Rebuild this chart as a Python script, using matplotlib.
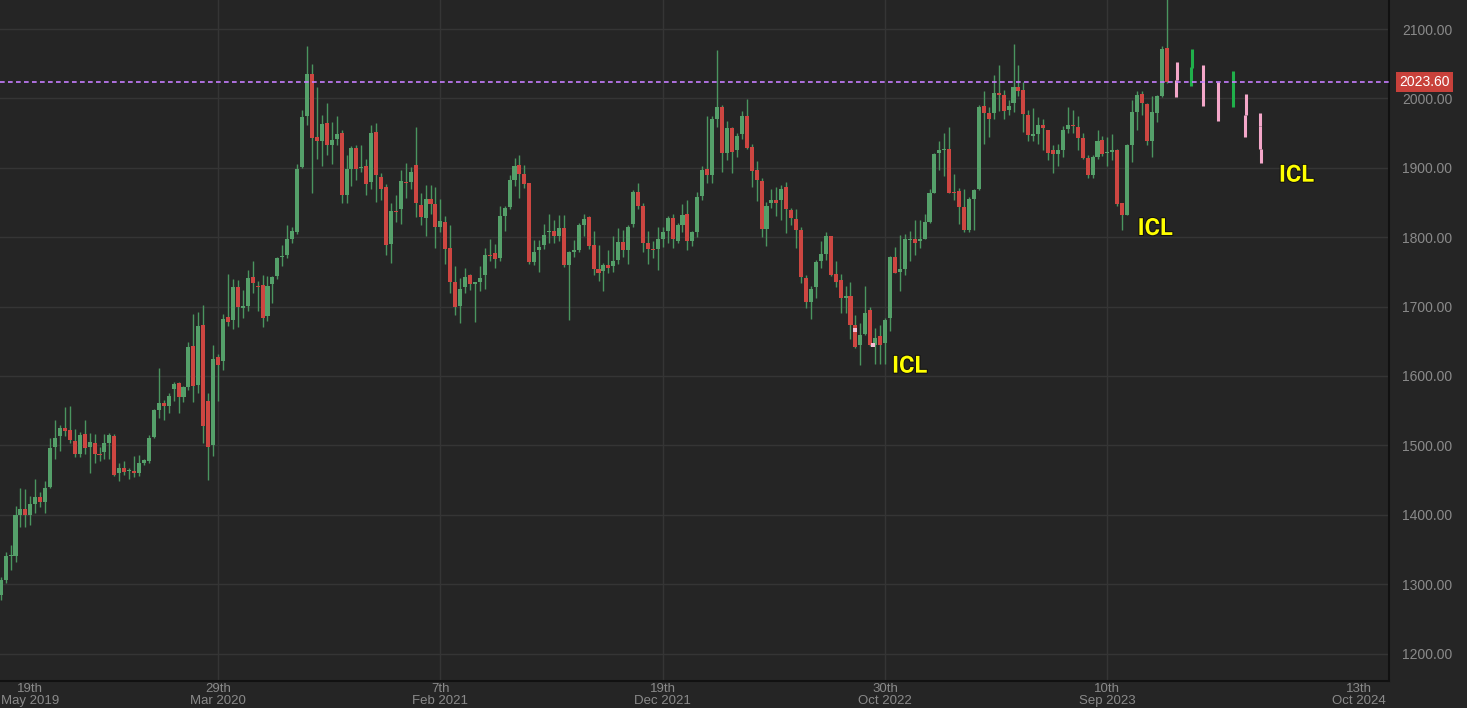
import matplotlib
matplotlib.use('Agg')
import matplotlib.pyplot as plt
import matplotlib.patheffects as pe
import matplotlib.transforms as mtransforms
import numpy as np

plt.rcParams['font.family'] = ['Liberation Sans', 'DejaVu Sans']

# weekly candles, first week = 26 May 2019
opens = [1284, 1306, 1340, 1341, 1400, 1408, 1400, 1415, 1425, 1419,
         1440, 1498, 1513, 1525, 1522, 1507, 1488, 1516, 1498, 1503,
         1488, 1491, 1504, 1513, 1460, 1467, 1463, 1463, 1460, 1475,
         1477, 1512, 1551, 1561, 1557, 1581, 1590, 1570, 1584, 1643,
         1587, 1674, 1564, 1500, 1627, 1621, 1685, 1681, 1728, 1698,
         1701, 1742, 1730, 1731, 1687, 1732, 1744, 1772, 1774, 1798,
         1807, 1901, 1975, 2035, 1944, 1939, 1965, 1933, 1941, 1950,
         1861, 1898, 1929, 1900, 1903, 1880, 1952, 1887, 1872, 1790,
         1838, 1840, 1880, 1880, 1904, 1847, 1827, 1855, 1848, 1814,
         1822, 1784, 1735, 1701, 1728, 1746, 1732, 1735, 1746, 1775,
         1777, 1770, 1831, 1844, 1882, 1904, 1891, 1878, 1764, 1781,
         1789, 1808, 1809, 1802, 1813, 1760, 1779, 1781, 1818, 1829,
         1789, 1754, 1751, 1760, 1758, 1767, 1793, 1782, 1819, 1865,
         1845, 1792, 1783, 1783, 1798, 1809, 1828, 1795, 1818, 1834,
         1794, 1808, 1859, 1898, 1890, 1971, 1987, 1922, 1957, 1926,
         1949, 1975, 1930, 1897, 1881, 1812, 1849, 1853, 1853, 1872,
         1839, 1826, 1811, 1741, 1707, 1728, 1766, 1776, 1802, 1747,
         1738, 1713, 1715, 1674, 1645, 1661, 1695, 1645, 1658, 1647,
         1683, 1771, 1750, 1754, 1796, 1797, 1795, 1798, 1822, 1864,
         1922, 1925, 1927, 1864, 1867, 1843, 1811, 1855, 1869, 1989,
         1979, 1979, 2008, 2005, 1984, 1993, 2016, 2012, 1976, 1946,
         1949, 1962, 1954, 1926, 1920, 1926, 1956, 1962, 1959, 1943,
         1914, 1890, 1916, 1940, 1921, 1923, 1926, 1849, 1832, 1933,
         1981, 2007, 1992, 1939, 1979, 2003, 2073]
highs = [1310, 1347, 1357, 1412, 1438, 1437, 1427, 1452, 1433, 1448,
         1510, 1536, 1529, 1555, 1557, 1524, 1519, 1536, 1518, 1516,
         1497, 1516, 1518, 1516, 1474, 1478, 1467, 1484, 1486, 1481,
         1515, 1553, 1611, 1565, 1575, 1592, 1592, 1586, 1649, 1690,
         1692, 1703, 1575, 1644, 1632, 1690, 1747, 1740, 1738, 1724,
         1753, 1766, 1737, 1745, 1744, 1744, 1772, 1789, 1818, 1815,
         1906, 1984, 2075, 2050, 2016, 1976, 1994, 1966, 1975, 1955,
         1918, 1931, 1933, 1933, 1912, 1962, 1965, 1892, 1877, 1849,
         1861, 1897, 1907, 1901, 1959, 1864, 1875, 1875, 1872, 1855,
         1830, 1817, 1759, 1741, 1756, 1747, 1736, 1758, 1784, 1797,
         1790, 1845, 1845, 1890, 1914, 1918, 1904, 1878, 1796, 1796,
         1819, 1834, 1825, 1832, 1832, 1780, 1796, 1820, 1834, 1831,
         1809, 1789, 1763, 1781, 1802, 1813, 1810, 1818, 1868, 1878,
         1849, 1809, 1795, 1815, 1814, 1831, 1833, 1820, 1848, 1854,
         1809, 1865, 1903, 1974, 1975, 2070, 1991, 1967, 1959, 1950,
         1982, 1999, 1934, 1910, 1885, 1851, 1870, 1873, 1875, 1879,
         1842, 1840, 1815, 1745, 1730, 1767, 1795, 1807, 1802, 1765,
         1747, 1730, 1735, 1688, 1677, 1730, 1699, 1669, 1674, 1683,
         1773, 1786, 1803, 1805, 1809, 1825, 1825, 1834, 1870, 1922,
         1938, 1950, 1959, 1891, 1871, 1870, 1858, 1870, 1990, 2011,
         1987, 2034, 2048, 2012, 1998, 2079, 2048, 2024, 1984, 1986,
         1973, 1971, 1955, 1933, 1935, 1960, 1988, 1983, 1974, 1950,
         1918, 1918, 1954, 1946, 1945, 1948, 1927, 1850, 1934, 1998,
         2011, 2010, 1993, 2003, 2005, 2076, 2146]
lows = [1277, 1301, 1320, 1332, 1383, 1382, 1385, 1402, 1411, 1402,
        1438, 1481, 1492, 1513, 1503, 1483, 1483, 1488, 1460, 1474,
        1478, 1481, 1481, 1456, 1448, 1458, 1451, 1455, 1456, 1472,
        1475, 1511, 1539, 1536, 1547, 1564, 1547, 1563, 1580, 1563,
        1576, 1504, 1450, 1484, 1564, 1609, 1672, 1668, 1670, 1683,
        1693, 1719, 1694, 1671, 1679, 1705, 1740, 1758, 1770, 1791,
        1805, 1899, 1962, 1863, 1912, 1903, 1918, 1906, 1933, 1850,
        1850, 1874, 1883, 1894, 1861, 1870, 1851, 1854, 1775, 1763,
        1822, 1819, 1856, 1870, 1829, 1818, 1802, 1833, 1785, 1807,
        1761, 1719, 1688, 1677, 1720, 1724, 1678, 1723, 1725, 1765,
        1756, 1766, 1809, 1840, 1874, 1857, 1871, 1762, 1760, 1750,
        1783, 1792, 1791, 1794, 1757, 1681, 1772, 1778, 1802, 1783,
        1745, 1737, 1723, 1748, 1750, 1761, 1772, 1761, 1814, 1840,
        1779, 1762, 1770, 1753, 1786, 1791, 1784, 1791, 1807, 1781,
        1788, 1801, 1854, 1878, 1878, 1959, 1894, 1911, 1892, 1916,
        1941, 1927, 1872, 1852, 1801, 1788, 1842, 1830, 1825, 1806,
        1818, 1785, 1734, 1698, 1682, 1713, 1756, 1767, 1744, 1728,
        1691, 1691, 1654, 1641, 1616, 1659, 1643, 1617, 1618, 1618,
        1665, 1748, 1723, 1745, 1766, 1775, 1785, 1797, 1820, 1863,
        1897, 1888, 1863, 1854, 1819, 1808, 1807, 1810, 1868, 1935,
        1945, 1970, 1982, 1970, 1976, 1981, 2003, 1952, 1938, 1938,
        1935, 1926, 1911, 1893, 1902, 1915, 1950, 1950, 1926, 1912,
        1886, 1886, 1912, 1917, 1902, 1911, 1845, 1811, 1832, 1909,
        1955, 1976, 1933, 1916, 1966, 2002, 2022]
closes = [1306, 1340, 1342, 1399, 1408, 1400, 1416, 1425, 1419, 1438,
          1496, 1510, 1525, 1521, 1508, 1488, 1515, 1496, 1505, 1488,
          1486, 1503, 1515, 1458, 1467, 1462, 1463.5, 1460, 1474, 1479,
          1510, 1551, 1561, 1557, 1571, 1588, 1570, 1584, 1642, 1586,
          1672, 1528, 1498, 1625, 1616, 1682, 1678, 1728, 1700, 1701,
          1741, 1734, 1728, 1683, 1730, 1742, 1770, 1773, 1798, 1809,
          1898, 1973, 2035, 1943, 1939, 1963, 1933, 1940, 1948, 1861,
          1898, 1929, 1898, 1900.5, 1877, 1950, 1890, 1870, 1789, 1838,
          1836, 1881, 1878, 1894, 1849, 1829, 1855, 1848, 1814, 1824,
          1783, 1735, 1699, 1725, 1742, 1733, 1735, 1741, 1774, 1773,
          1768, 1831, 1842, 1882, 1903, 1891, 1876, 1764, 1779, 1786,
          1803, 1809.5, 1802, 1813, 1760, 1779, 1782, 1818, 1826, 1787,
          1754, 1749, 1760, 1756, 1766, 1793, 1782, 1815, 1865, 1845,
          1792, 1783, 1781, 1797, 1808, 1828, 1797, 1817, 1832, 1794,
          1807, 1858, 1897, 1890, 1970, 1988, 1921, 1957, 1923, 1946,
          1975, 1928, 1896, 1882, 1812, 1845, 1853, 1850, 1870, 1840,
          1827, 1810, 1742, 1707, 1726, 1764, 1776, 1802, 1746, 1736,
          1712, 1713.5, 1674, 1642, 1659, 1691, 1645, 1655, 1645, 1681,
          1771, 1749, 1754, 1797, 1797.5, 1792, 1797, 1822, 1864, 1920,
          1925, 1927, 1864, 1863, 1843, 1810, 1855, 1868, 1988, 1979,
          1970, 2008, 2005, 1982, 1989, 2016, 2011, 1978, 1947, 1949,
          1962, 1958, 1922, 1920, 1926, 1955, 1962, 1960, 1943, 1914,
          1890, 1916, 1939, 1920, 1923, 1926, 1848, 1832, 1933, 1981,
          2005, 1993, 1939, 1981, 2003, 2071, 2023.6]

# projected path bars (week position, top, bottom, colour kind)
proj_week = [238.1, 237.9, 241.1, 240.9, 243.3, 246.4, 249.5, 252.0, 251.8, 254.8, 254.95, 255.1]
proj_top = [2052, 2026.5, 2070.7, 2045.7, 2048.1, 2024.1, 2040.0, 2005.9, 1976.1, 1979.4, 1960.7, 1927.1]
proj_bot = [2026.5, 2001.6, 2043.4, 2017.9, 1989.0, 1967.9, 1987.2, 1976.1, 1944.9, 1960.7, 1927.1, 1907.4]
proj_kind = ['p', 'p', 'g', 'g', 'p', 'p', 'g', 'p', 'p', 'p', 'p', 'p']

# small pink markers on the Oct 2022 lows
mark_week = [173.0, 176.6]
mark_price = [1667, 1644]

last_price = 2023.60

tick_pos = [5.87, 44, 89, 134, 179, 224, 275.0]
tick_lab = ['19th\nMay 2019', '29th\nMar 2020', '7th\nFeb 2021', '19th\nDec 2021',
            '30th\nOct 2022', '10th\nSep 2023', '13th\nOct 2024']

icl_week = [184.0, 233.7, 262.3]
icl_price = [1604.8, 1803.2, 1880.0]

bg = '#252525'
green = '#55a06a'
red = '#cd4641'
wick = '#4a955f'
txt = '#8a8a8a'

fig = plt.figure(figsize=(14.67, 7.08), dpi=100, facecolor=bg)
ax = fig.add_axes([0, 1 - 681 / 708, 1389 / 1467, 681 / 708])
ax.set_facecolor(bg)

o = np.array(opens, float)
h = np.array(highs, float)
l = np.array(lows, float)
c = np.array(closes, float)
x = np.arange(len(c))
up = c >= o

ax.vlines(x, l, h, color=wick, lw=1.0, zorder=2)
ax.bar(x, np.maximum(np.abs(c - o), 1.6), bottom=np.minimum(o, c), width=0.82,
       color=np.where(up, green, red), linewidth=0, zorder=3)

for px, t, b, k in zip(proj_week, proj_top, proj_bot, proj_kind):
    ax.vlines(px, b, t, color='#f4a7c9' if k == 'p' else '#20b04a', lw=2.2, zorder=3)

ax.plot(mark_week, mark_price, 's', color='#f6bcd4', ms=2.5, mew=0, zorder=4)

ax.axhline(last_price, color='#c77dff', lw=1.2, dashes=(2.8, 2.0), zorder=4)

trans = mtransforms.blended_transform_factory(ax.transAxes, ax.transData)
ax.text(1.0256, last_price, f'{last_price:.2f}', transform=trans, ha='center', va='center',
        color='white', fontsize=10, clip_on=False,
        bbox=dict(boxstyle='square,pad=0.22', fc='#c8413b', ec='none'))

for wx, wy in zip(icl_week, icl_price):
    ax.text(wx, wy, 'ICL', ha='center', va='baseline', color='#ffff00', fontsize=17,
            fontweight='bold', family=['Roboto', 'DejaVu Sans'], zorder=6,
            path_effects=[pe.withStroke(linewidth=1.5, foreground='#111111')])

ax.set_xlim(-0.14, 281.0)
ax.set_ylim(1160.5, 2141.8)

yt = np.arange(1200, 2101, 100)
ax.set_yticks(yt, [f'{v:.2f}' for v in yt])
ax.yaxis.tick_right()
ax.tick_params(axis='y', length=0, pad=9.5, colors=txt, labelsize=10)
ax.set_xticks(tick_pos, tick_lab)
ax.tick_params(axis='x', length=0, pad=1.5, colors=txt, labelsize=9.5)
for t in ax.get_xticklabels():
    t.set_linespacing(0.95)

ax.grid(axis='y', color='#353535', lw=1.0, zorder=0)
for p in tick_pos[1:-1]:
    ax.axvline(p, color='#353535', lw=1.0, zorder=0)

for s in ['top', 'left']:
    ax.spines[s].set_visible(False)
for s in ['bottom', 'right']:
    ax.spines[s].set_color('#111111')
    ax.spines[s].set_linewidth(1.5)

fig.savefig('out.png', dpi=100, facecolor=bg)
